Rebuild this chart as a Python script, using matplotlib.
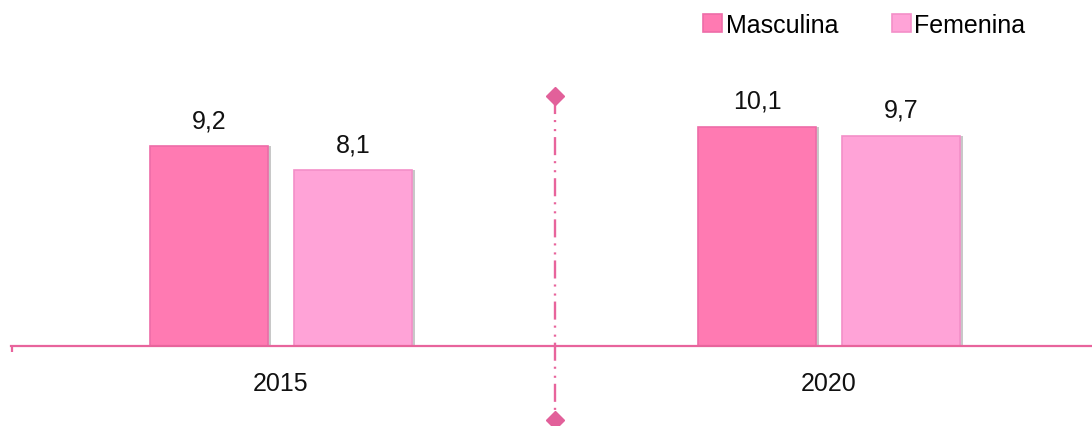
import matplotlib
matplotlib.use("Agg")
import matplotlib.pyplot as plt
import numpy as np

categories = ["2015", "2020"]
series_names = ["Masculina", "Femenina"]
masculina = [9.2, 10.1]
femenina = [8.1, 9.7]
value_labels_m = ["9,2", "10,1"]
value_labels_f = ["8,1", "9,7"]

plt.rcParams['font.family'] = ['Liberation Sans', 'DejaVu Sans']
plt.rcParams['lines.scale_dashes'] = False

W, H = 1092, 427
fig = plt.figure(figsize=(W/100, H/100), dpi=100)
axis_y_px = 347
ax = fig.add_axes([11/W, 1 - axis_y_px/H, 1 - 11/W, axis_y_px/H])

x = np.arange(len(categories))
bw = 0.215
off = 0.131
c_m, e_m = "#FF7AB2", "#EE6CA8"
c_f, e_f = "#FFA3D7", "#F38FC8"

# shadows
for vals, o in [(masculina, -off), (femenina, off)]:
    ax.bar(x + o + 0.006, vals, bw, color="#C8C8C8", zorder=1, linewidth=0)
bm = ax.bar(x - off, masculina, bw, color=c_m, edgecolor=e_m, linewidth=1.2, zorder=2, label="Masculina")
bf = ax.bar(x + off, femenina, bw, color=c_f, edgecolor=e_f, linewidth=1.2, zorder=2, label="Femenina")

for rect, lab in zip(bm, value_labels_m):
    ax.annotate(lab, (rect.get_x() + rect.get_width()/2, rect.get_height()),
                xytext=(0, 10), textcoords="offset points", ha="center", va="bottom",
                fontsize=18, color="#111111")
for rect, lab in zip(bf, value_labels_f):
    ax.annotate(lab, (rect.get_x() + rect.get_width()/2, rect.get_height()),
                xytext=(0, 10), textcoords="offset points", ha="center", va="bottom",
                fontsize=18, color="#111111")

scale = 21.7  # px per unit
ax.set_ylim(0, axis_y_px/scale)
left_lim = -(281 - 11)/548
right_lim = (1092 - 281)/548
ax.set_xlim(left_lim, right_lim)

for s in ["top", "right", "left"]:
    ax.spines[s].set_visible(False)
ax.spines["bottom"].set_color("#E8649C")
ax.spines["bottom"].set_linewidth(1.6)
ax.set_yticks([])
ax.set_xticks(x)
ax.set_xticklabels(categories, fontsize=18, color="#111111")
ax.tick_params(axis="x", length=0, pad=18)
ax.set_xticks([left_lim + 0.001], minor=True)
ax.tick_params(axis="x", which="minor", length=4.5, width=1.6, color="#E8649C", direction="out")

# divider between categories
div_x = 0.5
ytop = (axis_y_px - 97)/scale
ybot = (axis_y_px - 421)/scale
ax.plot([div_x, div_x], [ytop, ybot], color="#E8649C", lw=1.7,
        linestyle=(0, (13, 4.3, 1.5, 5, 1.5, 4.3)), clip_on=False, zorder=3)
ax.plot([div_x, div_x], [ytop, ybot], linestyle="none", marker="D", markersize=9,
        color="#E2609A", clip_on=False, zorder=4)

leg = fig.legend(handles=[bm, bf], labels=series_names, loc="upper left",
                 bbox_to_anchor=(703/W, 1 - 14/H), ncol=2, frameon=False,
                 fontsize=18, handlelength=0.75, handleheight=0.75, handletextpad=0.15,
                 columnspacing=2.15, borderaxespad=0, borderpad=0)

fig.savefig("out.png", dpi=100)
